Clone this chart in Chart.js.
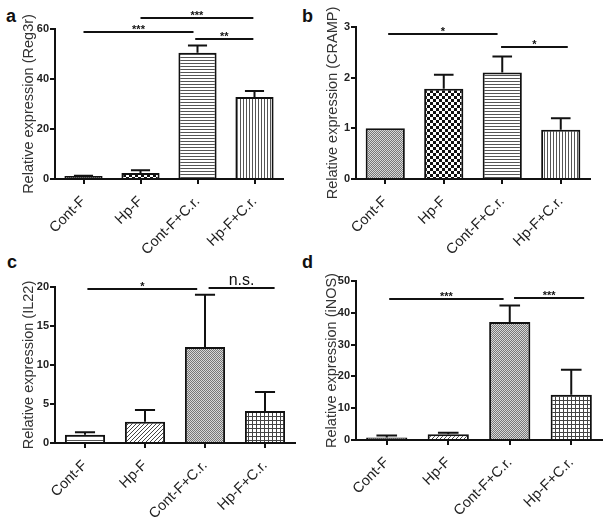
<!DOCTYPE html>
<html>
<head>
<meta charset="utf-8">
<script src="https://cdn.jsdelivr.net/npm/chart.js@4/dist/chart.umd.min.js"></script>
<style>
  body { margin: 0; background: #fff; width: 614px; height: 519px; position: relative; overflow: hidden;
         font-family: "Liberation Sans", Arial, sans-serif; }
  canvas { position: absolute; }
  .tag { position: absolute; font-weight: bold; font-size: 18px; line-height: 18px; color: #111; }
</style>
</head>
<body>
<div class="tag" style="left:6px;top:7px">a</div>
<div class="tag" style="left:302px;top:7px">b</div>
<div class="tag" style="left:7px;top:253px">c</div>
<div class="tag" style="left:302px;top:253px">d</div>
<canvas id="pa" width="307" height="260" style="left:0;top:0"></canvas>
<canvas id="pb" width="307" height="260" style="left:307px;top:0"></canvas>
<canvas id="pc" width="307" height="259" style="left:0;top:260px"></canvas>
<canvas id="pd" width="307" height="259" style="left:307px;top:260px"></canvas>
<script>
const categories = ['Cont-F', 'Hp-F', 'Cont-F+C.r.', 'Hp-F+C.r.'];

// means and SEM
const reg3rMean = [1.2, 2.4, 50.5, 32.8];
const reg3rErr = [0.1, 1.1, 2.9, 2.4];
const crampMean = [1.0, 1.78, 2.1, 0.97];
const crampErr = [0, 0.28, 0.32, 0.23];
const il22Mean = [1.07, 2.74, 12.3, 4.1];
const il22Err = [0.3, 1.5, 6.7, 2.45];
const inosMean = [0.8, 1.8, 37.1, 14.2];
const inosErr = [0.6, 0.5, 5.2, 7.9];

const reg3rTicks = [0, 20, 40, 60];
const crampTicks = [0, 1, 2, 3];
const il22Ticks = [0, 5, 10, 15, 20];
const inosTicks = [0, 10, 20, 30, 40, 50];

// significance bars: [from, to (category index), y value, label]
const reg3rSig = [[0, 1.93, 58.7, '***'], [1, 2.98, 64.4, '***'], [1.96, 2.98, 56.1, '**']];
const crampSig = [[0.05, 1.92, 2.86, '*'], [1.98, 3.12, 2.6, '*']];
const il22Sig = [[0.04, 1.87, 19.8, '*'], [2.06, 3.16, 19.9, 'n.s.']];
const inosSig = [[0.04, 1.9, 44.4, '***'], [2.07, 3.21, 44.7, '***']];

const FONT = "'Liberation Sans', Arial, sans-serif";

function pattern(kind) {
  const c = document.createElement('canvas');
  const g = c.getContext('2d');
  const s = { dots: 2, dark: 2, checker: 6, hlines: 3, hwide: 4, vlines: 3, diag: 4, grid: 4 }[kind];
  c.width = c.height = s;
  g.fillStyle = '#fff';
  g.fillRect(0, 0, s, s);
  if (kind === 'dots' || kind === 'dark') {
    g.fillStyle = kind === 'dark' ? '#666' : '#d8d8d8';
    g.fillRect(0, 0, 2, 2);
    g.fillStyle = kind === 'dark' ? '#333' : '#777';
    g.fillRect(0, 0, 1, 1);
    g.fillRect(1, 1, 1, 1);
  } else if (kind === 'checker') {
    g.fillStyle = '#111';
    g.fillRect(0, 0, s, s);
    g.fillStyle = '#fff';
    g.fillRect(0, 0, 3, 3);
    g.fillRect(3, 3, 3, 3);
  } else if (kind === 'hlines' || kind === 'hwide') {
    g.fillStyle = '#555';
    g.fillRect(0, 0, s, 1);
  } else if (kind === 'vlines') {
    g.fillStyle = '#555';
    g.fillRect(0, 0, 1, s);
  } else if (kind === 'diag') {
    g.fillStyle = '#444';
    for (let i = 0; i < s; i++) g.fillRect(s - 1 - i, i, 1, 1);
  } else if (kind === 'grid') {
    g.fillStyle = '#444';
    g.fillRect(0, 0, s, 1);
    g.fillRect(0, 0, 1, s);
  }
  return g.createPattern(c, 'repeat');
}

const extras = {
  id: 'extras',
  afterDatasetsDraw(chart, args, opts) {
    const { ctx, scales: { x, y } } = chart;
    const meta = chart.getDatasetMeta(0);
    ctx.save();
    ctx.strokeStyle = '#111';
    ctx.fillStyle = '#111';
    ctx.lineWidth = 2;
    meta.data.forEach((bar, i) => {
      const e = opts.errs[i];
      if (!e) return;
      const top = y.getPixelForValue(opts.means[i] + e);
      const half = bar.width / 4;
      ctx.beginPath();
      ctx.moveTo(bar.x, bar.y);
      ctx.lineTo(bar.x, top);
      ctx.moveTo(bar.x - half, top);
      ctx.lineTo(bar.x + half, top);
      ctx.stroke();
    });
    opts.sigs.forEach(([a, b, v, label]) => {
      const py = Math.round(y.getPixelForValue(v));
      const xa = x.getPixelForValue(a);
      const xb = x.getPixelForValue(b);
      ctx.lineWidth = 2;
      ctx.beginPath();
      ctx.moveTo(xa, py);
      ctx.lineTo(xb, py);
      ctx.stroke();
      ctx.textAlign = 'center';
      ctx.textBaseline = 'alphabetic';
      if (label === 'n.s.') {
        ctx.font = '16px ' + FONT;
        ctx.fillText(label, (xa + xb) / 2, py - 3);
      } else {
        ctx.font = 'bold 11px ' + FONT;
        ctx.fillText(label, (xa + xb) / 2, py + 1);
      }
    });
    ctx.restore();
  }
};

function panel(id, title, means, errs, ticks, sigs, fills, area) {
  const canvas = document.getElementById(id);
  const W = canvas.width, H = canvas.height;
  return new Chart(canvas, {
    type: 'bar',
    data: {
      labels: categories,
      datasets: [{
        data: means,
        backgroundColor: fills.map(pattern),
        borderColor: '#111',
        borderWidth: 2,
        borderSkipped: 'bottom',
        barPercentage: 0.67,
        categoryPercentage: 1,
      }],
    },
    options: {
      responsive: false,
      animation: false,
      layout: { padding: { top: area.top, right: W - area.right, left: 0, bottom: 0 } },
      plugins: {
        legend: { display: false },
        tooltip: { enabled: false },
        extras: { means, errs, sigs },
      },
      scales: {
        x: {
          offset: true,
          grid: { offset: false, drawOnChartArea: false, color: '#111', lineWidth: 2, tickLength: 5 },
          border: { color: '#111', width: 2 },
          ticks: {
            autoSkip: false, minRotation: 45, maxRotation: 45, padding: 9,
            color: '#222', font: { size: 14.5, family: FONT },
          },
          afterFit(ax) { ax.height = H - area.bottom; },
        },
        y: {
          min: 0,
          max: ticks[ticks.length - 1],
          afterBuildTicks(ax) { ax.ticks = ticks.map((v) => ({ value: v })); },
          grid: { drawOnChartArea: false, color: '#111', lineWidth: 2, tickLength: 5 },
          border: { color: '#111', width: 2 },
          ticks: { padding: 1, color: '#222', font: { size: 11, weight: 'bold', family: FONT } },
          title: {
            display: true, text: title, color: '#333',
            font: { size: 14.5, family: FONT }, padding: { top: area.titleX, bottom: 0 },
          },
          afterFit(ax) { ax.width = area.left; },
        },
      },
    },
    plugins: [extras],
  });
}

panel('pa', 'Relative expression (Reg3r)', reg3rMean, reg3rErr, reg3rTicks, reg3rSig,
  ['dark', 'checker', 'hlines', 'vlines'], { left: 55, right: 283, top: 29, bottom: 179, titleX: 20 });
panel('pb', 'Relative expression (CRAMP)', crampMean, crampErr, crampTicks, crampSig,
  ['dots', 'checker', 'hlines', 'vlines'], { left: 49, right: 283, top: 27, bottom: 179, titleX: 17 });
panel('pc', 'Relative expression (IL22)', il22Mean, il22Err, il22Ticks, il22Sig,
  ['hwide', 'diag', 'dots', 'grid'], { left: 55, right: 295, top: 27, bottom: 183, titleX: 20 });
panel('pd', 'Relative expression (iNOS)', inosMean, inosErr, inosTicks, inosSig,
  ['dark', 'diag', 'dots', 'grid'], { left: 49, right: 295, top: 21, bottom: 180, titleX: 16 });
</script>
</body>
</html>
